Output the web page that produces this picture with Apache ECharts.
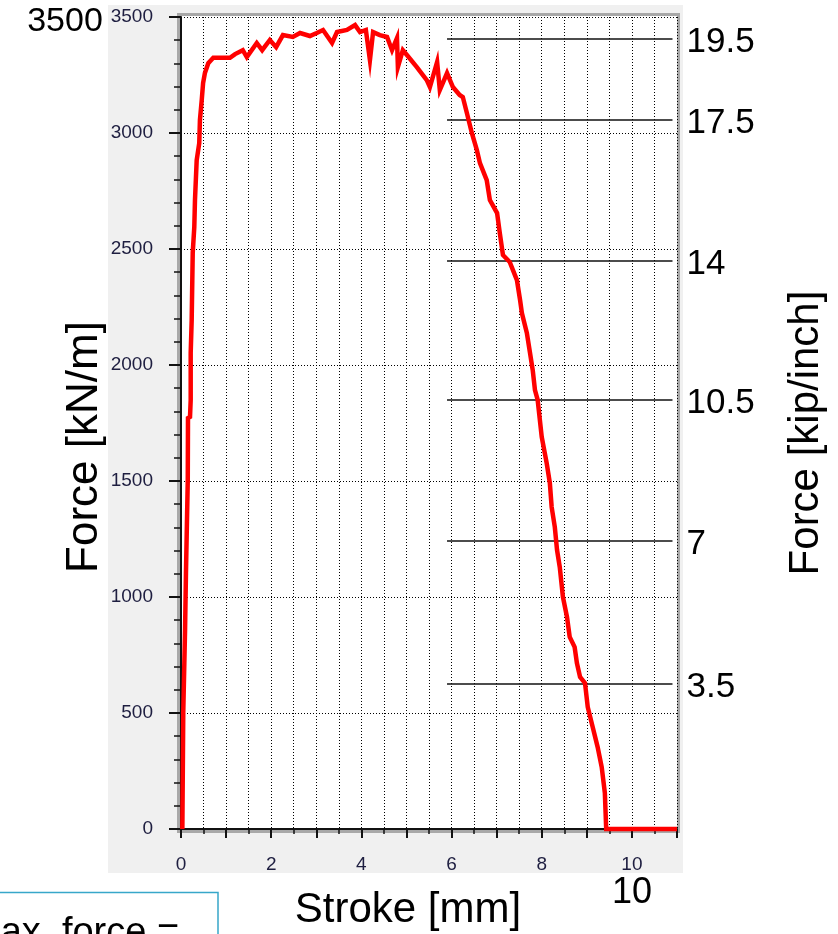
<!DOCTYPE html>
<html>
<head>
<meta charset="utf-8">
<title>Force vs Stroke</title>
<script src="https://cdn.jsdelivr.net/npm/echarts@6/dist/echarts.min.js"></script>
<style>
  html, body { margin: 0; padding: 0; background: #ffffff; }
  #chart { width: 838px; height: 934px; }
</style>
</head>
<body>
<div id="chart"></div>
<script>
// Stroke (mm) and force per unit length (kN/m) of the test record
const strokeMm = [
  0.03, 0.05, 0.09, 0.11, 0.15, 0.155, 0.20, 0.215, 0.215, 0.237,
  0.26, 0.295, 0.31, 0.348, 0.405, 0.42, 0.46, 0.49, 0.53, 0.605,
  0.716, 1.086, 1.20, 1.37, 1.46, 1.68, 1.80, 1.97, 2.11, 2.26,
  2.48, 2.64, 2.86, 3.01, 3.15, 3.35, 3.46, 3.68, 3.86, 3.97,
  4.10, 4.19, 4.26, 4.41, 4.57, 4.68, 4.79, 4.81, 4.92, 5.01,
  5.23, 5.45, 5.52, 5.68, 5.74, 5.90, 6.03, 6.18, 6.25, 6.34,
  6.45, 6.56, 6.63, 6.78, 6.85, 7.01, 7.07, 7.14, 7.29, 7.45,
  7.52, 7.56, 7.67, 7.74, 7.80, 7.85, 7.91, 8.00, 8.11, 8.18,
  8.22, 8.29, 8.34, 8.40, 8.47, 8.56, 8.62, 8.73, 8.78, 8.85,
  8.96, 9.02, 9.13, 9.24, 9.33, 9.40, 9.43, 11.0
];
const forceKNm = [
  0, 500, 858, 1103, 1504, 1771, 1776, 1849, 2052, 2194,
  2483, 2595, 2711, 2883, 2957, 3056, 3142, 3215, 3258, 3301,
  3324, 3324, 3340, 3357, 3327, 3388, 3357, 3401, 3370, 3422,
  3414, 3431, 3418, 3431, 3444, 3388, 3435, 3444, 3465, 3435,
  3444, 3314, 3435, 3422, 3414, 3357, 3409, 3284, 3357, 3336,
  3284, 3228, 3198, 3306, 3185, 3258, 3198, 3164, 3155, 3086,
  3000, 2927, 2870, 2797, 2711, 2655, 2569, 2474, 2444, 2366,
  2280, 2224, 2138, 2052, 1978, 1892, 1849, 1690, 1577, 1491,
  1388, 1302, 1202, 1129, 1000, 914, 828, 784, 715, 655,
  629, 526, 440, 353, 267, 155, 0, 0
];

// Reference levels: labels in kip/inch, drawn at their kN/m equivalents
const kipLevels = [19.5, 17.5, 14, 10.5, 7, 3.5];
const kipLevelKNm = [3405, 3056, 2448, 1849, 1241, 625];
const kipLineStart = 5.9;
const kipLineEnd = 10.9;

// Tick labels
const xTickLabels = [0, 2, 4, 6, 8, 10];
const yTickLabels = [0, 500, 1000, 1500, 2000, 2500, 3000, 3500];

const FONT = "'Liberation Sans', Arial, sans-serif";
const tickColor = '#1e1e40';
const axisDark = '#111111';
const dotted = { color: '#000000', width: 1, type: [1, 2] };

const chart = echarts.init(document.getElementById('chart'), null, { renderer: 'canvas' });

const curve = strokeMm.map((x, i) => [x, forceKNm[i]]);

chart.setOption({
  animation: false,
  backgroundColor: '#ffffff',
  grid: { left: 181, top: 17, width: 496, height: 812, containLabel: false },
  xAxis: {
    type: 'value', min: 0, max: 11, interval: 1, offset: 9,
    axisLine: { show: true, lineStyle: { color: axisDark, width: 2 } },
    axisTick: { show: true, length: 9, lineStyle: { color: axisDark, width: 2 } },
    minorTick: { show: true, splitNumber: 2, length: 5, lineStyle: { color: axisDark, width: 1.5 } },
    splitLine: { show: true, lineStyle: dotted },
    minorSplitLine: { show: true, lineStyle: dotted },
    axisLabel: {
      margin: 17, fontSize: 19, color: tickColor, fontFamily: FONT,
      formatter: v => (xTickLabels.indexOf(v) >= 0 ? String(v) : '')
    }
  },
  yAxis: {
    type: 'value', min: 0, max: 3500, interval: 500, offset: 8,
    axisLine: { show: true, lineStyle: { color: axisDark, width: 2 } },
    axisTick: { show: true, length: 12, lineStyle: { color: axisDark, width: 2 } },
    minorTick: { show: true, splitNumber: 5, length: 7, lineStyle: { color: axisDark, width: 1.5 } },
    splitLine: { show: true, lineStyle: dotted },
    minorSplitLine: { show: false },
    axisLabel: {
      margin: 20, fontSize: 19, color: tickColor, fontFamily: FONT,
      formatter: v => (yTickLabels.indexOf(v) >= 0 ? String(v) : '')
    }
  },
  series: [{
    type: 'line',
    data: curve,
    showSymbol: false,
    clip: false,
    lineStyle: { color: '#ff0000', width: 4.5, join: 'miter' },
    z: 5,
    markLine: {
      silent: true,
      symbol: 'none',
      lineStyle: { color: '#111111', width: 1.5, type: 'solid' },
      label: {
        show: true, position: 'end', distance: 14, offset: [0, 3],
        fontSize: 35, fontFamily: FONT, color: '#000000',
        formatter: '{b}'
      },
      data: kipLevels.map((k, i) => [
        { coord: [kipLineStart, kipLevelKNm[i]], name: String(k) },
        { coord: [kipLineEnd, kipLevelKNm[i]] }
      ])
    }
  }],
  graphic: [
    // instrument panel and plot frame
    { type: 'rect', z: -20, shape: { x: 108, y: 5, width: 575, height: 868 }, style: { fill: '#f0f0f0' } },
    { type: 'rect', z: -19, shape: { x: 178.5, y: 14.5, width: 500, height: 817 },
      style: { fill: '#ffffff', stroke: '#a8a8a8', lineWidth: 3 } },
    // annotations
    { type: 'text', z: 100, style: { text: '3500', x: 65, y: 22, fontSize: 34, fontFamily: FONT, fill: '#000', textAlign: 'center', textVerticalAlign: 'middle' } },
    { type: 'text', z: 100, rotation: Math.PI / 2, x: 85, y: 447,
      style: { text: 'Force [kN/m]', x: 0, y: 0, fontSize: 44, fontFamily: FONT, fill: '#000', textAlign: 'center', textVerticalAlign: 'middle' } },
    { type: 'text', z: 100, rotation: Math.PI / 2, x: 806, y: 433,
      style: { text: 'Force [kip/inch]', x: 0, y: 0, fontSize: 42, fontFamily: FONT, fill: '#000', textAlign: 'center', textVerticalAlign: 'middle' } },
    { type: 'text', z: 100, style: { text: 'Stroke [mm]', x: 408, y: 910, fontSize: 42, fontFamily: FONT, fill: '#000', textAlign: 'center', textVerticalAlign: 'middle' } },
    { type: 'text', z: 100, style: { text: '10', x: 632, y: 893, fontSize: 36, fontFamily: FONT, fill: '#000', textAlign: 'center', textVerticalAlign: 'middle' } },
    { type: 'rect', z: 90, shape: { x: -20, y: 892.5, width: 238, height: 80 }, style: { fill: '#ffffff', stroke: '#37a7c9', lineWidth: 1.5 } },
    { type: 'text', z: 100, style: { text: 'Max. force =', x: -31, y: 934, fontSize: 38, fontFamily: FONT, fill: '#000', textAlign: 'left', textVerticalAlign: 'middle' } }
  ]
});
</script>
</body>
</html>
